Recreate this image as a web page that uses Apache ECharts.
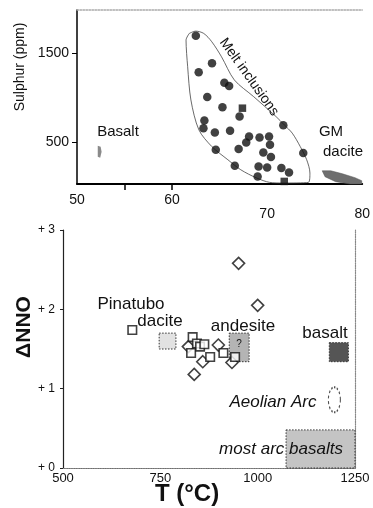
<!DOCTYPE html>
<html><head><meta charset="utf-8">
<script src="https://cdn.jsdelivr.net/npm/echarts@6/dist/echarts.min.js"></script>
<style>html,body{margin:0;padding:0;background:#fff}#c{width:373px;height:508px}</style>
</head><body><div id="c"></div>
<script>
// ---------- Top panel: sulphur (ppm) vs SiO2 (wt%) ----------
const meltCircles = [[62.5,1694],[64.2,1384],[62.8,1283],[65.5,1166],[66.0,1129],[63.7,1006],[65.3,890],
  [67.1,784],[63.4,739],[63.3,654],[64.5,605],[66.1,624],[71.7,688],[73.8,373],[64.6,410],[67.0,418],
  [67.8,492],[68.1,560],[69.2,548],[70.2,560],[70.3,466],[69.6,380],[70.4,328],[66.6,230],[69.1,222],
  [70.0,211],[71.5,204],[72.3,155],[69.0,110]];
const meltSquares = [[67.4,879],[71.8,54]];
const meltEnvelope = [[61.81,1721],[61.47,1646],[61.64,1346],[61.98,972],[62.82,635],[64.18,447],[65.87,298],
  [67.23,185],[68.91,92],[70.27,43],[71.62,36],[74.34,43],[74.50,148],[74.16,298],[73.48,447],[72.64,598],
  [71.80,691],[70.94,784],[68.58,1009],[66.55,1197],[65.20,1458],[64.18,1627],[63.33,1721],[62.49,1747],[61.81,1721]];
const basaltField = [[52.18,455],[52.49,444],[52.59,388],[52.44,320],[52.18,331]];
const gmDaciteField = [[75.79,174],[76.70,174],[77.92,140],[79.24,96],[79.95,62],[79.95,25],[78.73,25],[77.21,51],[76.09,107]];
const siLabels = [50,60,70,80];
const siTicks = [55,60];
const sTicks = [500,1500];

// ---------- Bottom panel: ΔNNO vs T (°C) ----------
const squaresTN = [[678,1.74],[833,1.65],[844,1.57],[852,1.53],[863,1.56],[829,1.45],[878,1.40],[912,1.45],[942,1.40]];
const diamondsTN = [[951,2.58],[1000,2.05],[822,1.53],[899,1.55],[859,1.34],[837,1.18],[934,1.33]];
// [Tmin, Tmax, NNOmin, NNOmax]
const fieldBoxes = [[747,790,1.50,1.70],[927,978,1.34,1.70],[1184,1233,1.34,1.58],[1073,1250,0,0.48]];
const aeolianArc = [[1197,0.86]];
const tTicks = [500,750,1000,1250];
const nnoTicks = [0,1,2,3];

const boxFills = ['#e2e2e2','#b4b4b4','#555555','#c4c4c4'];

function polySeries(pts, fill, stroke){
  return {
    type:'custom', xAxisIndex:0, yAxisIndex:0, data:[0], silent:true, z:1,
    renderItem:function(params, api){
      return {type:'polygon', shape:{points:pts.map(p=>api.coord(p))},
        style:{fill:fill, stroke:stroke||null, lineWidth:0.5}};
    }
  };
}

const chart = echarts.init(document.getElementById('c'), null, {renderer:'canvas'});
const F = 'Arial, "Liberation Sans", sans-serif';
const plain = v => String(v);
function txt(x, y, text, font, extra){
  return Object.assign({type:'text', x:x, y:y, z:100, zlevel:0,
    style:{text:text, font:font, fill:'#111', align:'center', verticalAlign:'middle'}}, extra||{});
}
chart.setOption({
  animation:false,
  backgroundColor:'#fff',
  grid:[
    {left:77, top:10, width:296, height:174, show:false},
    {left:63, top:230, width:292, height:238, show:false}
  ],
  xAxis:[
    {gridIndex:0, type:'value', min:50, max:80,
      axisLine:{lineStyle:{color:'#000', width:2}},
      axisTick:{customValues:siTicks, length:6, lineStyle:{color:'#000', width:1.5}},
      axisLabel:{customValues:siLabels, margin:9, color:'#111', fontFamily:F, fontSize:14,
        formatter:v=>v>=70?'{lo|'+v+'}':'{hi|'+v+'}',
        rich:{hi:{fontSize:14, fontFamily:F, color:'#111'}, lo:{fontSize:14, fontFamily:F, color:'#111', padding:[14,0,0,0]}}},
      splitLine:{show:false}},
    {gridIndex:0, type:'value', min:50, max:80, position:'top',
      axisLine:{lineStyle:{color:'#aaa', width:1.5, type:'dotted'}}, axisTick:{show:false}, axisLabel:{show:false}, splitLine:{show:false}},
    {gridIndex:1, type:'value', min:500, max:1250, interval:250,
      axisLine:{lineStyle:{color:'#333', width:1.2}},
      axisTick:{show:false},
      axisLabel:{margin:4, color:'#111', fontFamily:F, fontSize:13, formatter:plain},
      splitLine:{show:false}},
    {gridIndex:1, type:'value', min:500, max:1250, position:'top',
      axisLine:{lineStyle:{color:'#888', width:1.2, type:'dotted'}}, axisTick:{show:false}, axisLabel:{show:false}, splitLine:{show:false}}
  ],
  yAxis:[
    {gridIndex:0, type:'value', min:25, max:1985,
      axisLine:{lineStyle:{color:'#000', width:1.5}},
      axisTick:{customValues:sTicks, length:5, lineStyle:{color:'#000'}},
      axisLabel:{customValues:sTicks, margin:8, color:'#111', fontFamily:F, fontSize:14, formatter:plain},
      splitLine:{show:false}},
    {gridIndex:1, type:'value', min:0, max:3, interval:1,
      axisLine:{lineStyle:{color:'#222', width:1.2}},
      axisTick:{length:3, lineStyle:{color:'#222'}},
      axisLabel:{margin:8, color:'#111', fontFamily:F, fontSize:12, formatter:v=>'+ '+v},
      splitLine:{show:false}},
    {gridIndex:1, type:'value', min:0, max:3, position:'right',
      axisLine:{lineStyle:{color:'#888', width:1.2, type:'dotted'}}, axisTick:{show:false}, axisLabel:{show:false}, splitLine:{show:false}}
  ],
  series:[
    polySeries(basaltField, '#8a8a8a'),
    polySeries(gmDaciteField, '#6e6e6e', '#555'),
    {type:'line', xAxisIndex:0, yAxisIndex:0, data:meltEnvelope, symbol:'none', smooth:0.3,
      lineStyle:{color:'#444', width:0.8}, silent:true, z:2},
    {type:'scatter', xAxisIndex:0, yAxisIndex:0, data:meltCircles, symbol:'circle', symbolSize:8.5,
      itemStyle:{color:'#111'}, z:3},
    {type:'scatter', xAxisIndex:0, yAxisIndex:0, data:meltSquares, symbol:'rect', symbolSize:7.5,
      itemStyle:{color:'#111'}, z:3},
    {type:'custom', xAxisIndex:2, yAxisIndex:1, data:fieldBoxes, silent:true, z:1,
      encode:{x:[0,1], y:[2,3]},
      renderItem:function(params, api){
        const p1 = api.coord([api.value(0), api.value(3)]);
        const p2 = api.coord([api.value(1), api.value(2)]);
        return {type:'rect', shape:{x:p1[0], y:p1[1], width:p2[0]-p1[0], height:p2[1]-p1[1]},
          style:{fill:boxFills[params.dataIndex], stroke:'#333', lineWidth:1, lineDash:[1.5,1.5]}};
      }},
    {type:'scatter', xAxisIndex:2, yAxisIndex:1, data:aeolianArc, symbol:'circle', symbolSize:[12,25],
      itemStyle:{color:'rgba(0,0,0,0)', borderColor:'#222', borderWidth:1.5, borderType:[2,2]}, z:2},
    {type:'scatter', xAxisIndex:2, yAxisIndex:1, data:diamondsTN, symbol:'diamond', symbolSize:12,
      itemStyle:{color:'#fff', borderColor:'#111', borderWidth:1.6}, z:3},
    {type:'scatter', xAxisIndex:2, yAxisIndex:1, data:squaresTN, symbol:'rect', symbolSize:8.5,
      itemStyle:{color:'#fff', borderColor:'#111', borderWidth:1.6}, z:4}
  ],
  graphic:[
    txt(20, 67, 'Sulphur (ppm)', '14px '+F, {rotation:Math.PI/2}),
    txt(249, 77, 'Melt inclusions', '14px '+F, {rotation:-0.95}),
    txt(118, 132, 'Basalt', '15px '+F),
    txt(331, 132, 'GM', '15px '+F),
    txt(343, 152, 'dacite', '15px '+F),
    txt(24, 327, 'ΔNNO', 'bold 21px '+F, {rotation:Math.PI/2}),
    txt(187, 494, 'T (°C)', 'bold 24px '+F),
    txt(131, 304, 'Pinatubo', '17px '+F),
    txt(160, 321, 'dacite', '17px '+F),
    txt(243, 326, 'andesite', '17px '+F),
    txt(325, 333, 'basalt', '17px '+F),
    txt(239, 344, '?', '10px '+F),
    txt(273, 402, 'Aeolian Arc', 'italic 17px '+F),
    txt(281, 449, 'most arc basalts', 'italic 17px '+F)
  ]
});
</script></body></html>
